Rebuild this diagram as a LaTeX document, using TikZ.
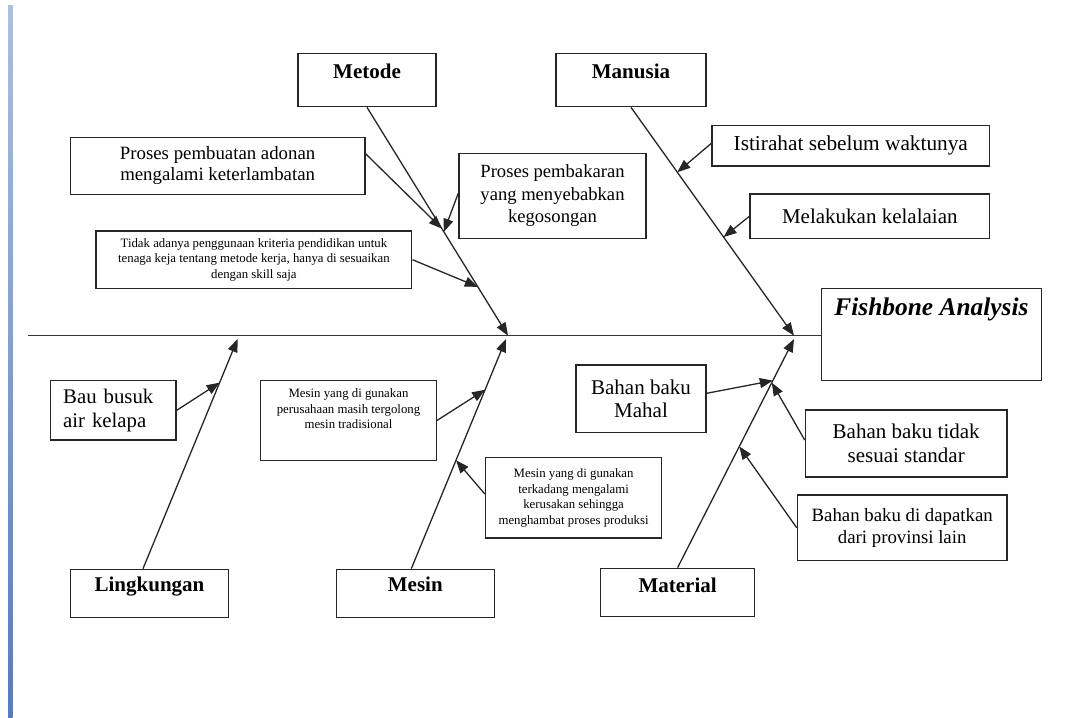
\documentclass[tikz,border=0pt]{standalone}
\usepackage{fontspec}
\setmainfont{Liberation Serif}
\usetikzlibrary{arrows.meta,calc}
\definecolor{barlight}{RGB}{172,192,222}
\definecolor{bardark}{RGB}{88,124,186}
\tikzset{
  causebox/.style={draw=black!85,line width=1.3pt,inner sep=0pt,align=center,
    font=\fontsize{21}{24}\selectfont},
  headbox/.style={causebox,font=\fontsize{21}{25}\selectfont\bfseries},
  smallbox/.style={causebox,font=\fontsize{12.8}{15.5}\selectfont},
  bonearrow/.style={draw=black!85,line width=1.3pt,-{Triangle[length=13pt,width=10pt]}}
}
\begin{document}
\begin{tikzpicture}[x=1pt,y=-1pt]
\useasboundingbox (0,0) rectangle (1078,717);
\shade[top color=barlight,bottom color=bardark] (8,5.7) rectangle (12.7,717);

\node[headbox,minimum width=138pt,text height=24.7pt,text depth=28.7pt] (metode) at (367,80) {Metode};
\node[headbox,minimum width=150pt,text height=24.7pt,text depth=28.7pt] (manusia) at (631,80) {Manusia};
\node[headbox,minimum width=158.5pt,text height=21.7pt,text depth=26.3pt] (lingk) at (149.5,593.3) {Lingkungan};
\node[headbox,minimum width=157.7pt,text height=21.7pt,text depth=26.3pt] (mesin) at (415.3,593.3) {Mesin};
\node[headbox,minimum width=154.4pt,text height=23.7pt,text depth=24.7pt] (material) at (677.6,592.5) {Material};
\node[headbox,minimum width=220.3pt,text height=27pt,text depth=65.4pt,
  font=\fontsize{25.4}{30}\selectfont\bfseries\itshape] (fish) at (931.5,334.5) {Fishbone Analysis};

\node[causebox,minimum width=294.8pt,minimum height=57pt,font=\fontsize{18.8}{21.4}\selectfont] (adonan) at (217.6,165.8)
  {Proses pembuatan adonan\\ mengalami keterlambatan};
\node[causebox,minimum width=187pt,minimum height=85.4pt,font=\fontsize{18.6}{22.5}\selectfont] (bakar) at (552.5,196)
  {Proses pembakaran\\ yang menyebabkan\\ kegosongan};
\node[smallbox,minimum width=315.8pt,minimum height=57.3pt] (kriteria) at (253.9,259.7)
  {Tidak adanya penggunaan kriteria pendidikan untuk\\ tenaga keja tentang metode kerja, hanya di sesuaikan\\ dengan skill saja};
\node[causebox,minimum width=277.6pt,minimum height=40.3pt,font=\fontsize{21.3}{24}\selectfont] (istirahat) at (850.8,145.8)
  {Istirahat sebelum waktunya};
\node[causebox,minimum width=239.6pt,minimum height=44.7pt] (lalai) at (869.8,216.3) {Melakukan kelalaian};
\node[causebox,minimum width=125.7pt,minimum height=59.3pt,text width=100pt,align=left,
  font=\fontsize{20.8}{24.3}\selectfont] (bau) at (113.2,410.3) {Bau busuk\\ air kelapa};
\node[smallbox,minimum width=175.6pt,minimum height=79.6pt] (tradisional) at (348.5,420.5)
  {Mesin yang di gunakan\\ perusahaan masih tergolong\\ mesin tradisional\\[8pt]\mbox{}};
\node[smallbox,minimum width=176.3pt,minimum height=80.3pt] (rusak) at (573.6,497.8)
  {Mesin yang di gunakan\\ terkadang mengalami\\ kerusakan sehingga\\ menghambat proses produksi};
\node[causebox,minimum width=130pt,minimum height=67.7pt,font=\fontsize{21}{23.3}\selectfont] (mahal) at (641,398.8)
  {Bahan baku\\ Mahal};
\node[causebox,minimum width=201.7pt,minimum height=67pt] (standar) at (906.2,443.5)
  {Bahan baku tidak\\ sesuai standar};
\node[causebox,minimum width=209.6pt,minimum height=65.7pt,font=\fontsize{18.8}{21.6}\selectfont] (provinsi) at (902.2,527.8)
  {Bahan baku di dapatkan\\ dari provinsi lain};

\coordinate (tail) at (27.5,335.7);
\coordinate (mtip) at (508,335.7);
\coordinate (htip) at (794,335.7);
\coordinate (ltip) at (237.6,339);
\coordinate (stip) at (506,339);
\coordinate (rtip) at (794,339);
\coordinate (lfoot) at ([xshift=-6.5pt]lingk.north);
\coordinate (sfoot) at ([xshift=-4pt]mesin.north);

\draw[black!80,line width=1.5pt] (tail) -- (tail -| fish.west);

\draw[bonearrow] (metode.south) -- (mtip);
\draw[bonearrow] (manusia.south) -- (htip);
\draw[bonearrow] (lfoot) -- (ltip);
\draw[bonearrow] (sfoot) -- (stip);
\draw[bonearrow] (material.north) -- (rtip);

\draw[bonearrow] ([yshift=12pt]adonan.east) -- ($(metode.south)!0.531!(mtip)$);
\draw[bonearrow] ([yshift=3pt]bakar.west) -- ($(metode.south)!0.545!(mtip)$);
\draw[bonearrow] (kriteria.east) -- ($(metode.south)!0.786!(mtip)$);
\draw[bonearrow] ([yshift=2.5pt]istirahat.west) -- ($(manusia.south)!0.284!(htip)$);
\draw[bonearrow] (lalai.west) -- ($(manusia.south)!0.568!(htip)$);
\draw[bonearrow] (bau.east) -- ($(lfoot)!0.81!(ltip)$);
\draw[bonearrow] (tradisional.east) -- ($(sfoot)!0.779!(stip)$);
\draw[bonearrow] ([yshift=3.8pt]rusak.west) -- ($(sfoot)!0.472!(stip)$);
\draw[bonearrow] ([yshift=5.5pt]mahal.east) -- ($(material.north)!0.818!(rtip)$);
\draw[bonearrow] ([yshift=3.5pt]standar.west) -- ($(material.north)!0.809!(rtip)$);
\draw[bonearrow] (provinsi.west) -- ($(material.north)!0.53!(rtip)$);
\end{tikzpicture}
\end{document}
